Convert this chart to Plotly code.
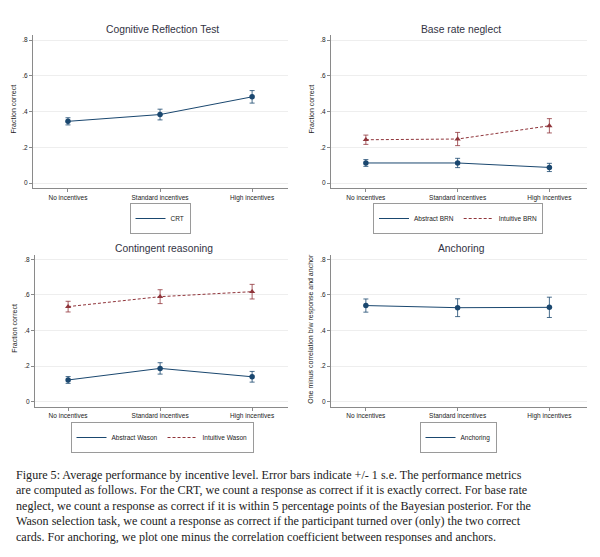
import plotly.graph_objects as go

# The page body has an 8px default margin; the figure is sized so that
# figure + margin fills the 600x557 window exactly.
OFF = 8
W, H = 600 - OFF, 557 - OFF

categories = ["No incentives", "Standard incentives", "High incentives"]
tick_vals = [0, 0.2, 0.4, 0.6, 0.8]
tick_text = ["0", ".2", ".4", ".6", ".8"]

crt = [0.345, 0.383, 0.482]
crt_se = [0.020, 0.030, 0.035]

brn_abstract = [0.112, 0.112, 0.087]
brn_abstract_se = [0.019, 0.026, 0.023]
brn_intuitive = [0.242, 0.246, 0.320]
brn_intuitive_se = [0.026, 0.037, 0.040]

wason_abstract = [0.122, 0.187, 0.140]
wason_abstract_se = [0.019, 0.032, 0.030]
wason_intuitive = [0.534, 0.590, 0.618]
wason_intuitive_se = [0.030, 0.039, 0.041]

anchoring = [0.540, 0.528, 0.530]
anchoring_se = [0.037, 0.050, 0.057]

panel_titles = ["Cognitive Reflection Test", "Base rate neglect",
                "Contingent reasoning", "Anchoring"]
y_titles = ["Fraction correct", "Fraction correct", "Fraction correct",
            "One minus correlation b/w response and anchor"]

caption_lines = [
    "Figure 5: Average performance by incentive level. Error bars indicate +/- 1 s.e. The performance metrics",
    "are computed as follows. For the CRT, we count a response as correct if it is exactly correct. For base rate",
    "neglect, we count a response as correct if it is within 5 percentage points of the Bayesian posterior. For the",
    "Wason selection task, we count a response as correct if the participant turned over (only) the two correct",
    "cards. For anchoring, we plot one minus the correlation coefficient between responses and anchors.",
]

NAVY = "#1a476f"
MAROON = "#90353b"
AXIS = "#8a8a8a"
SANS = "Liberation Sans, Arial, sans-serif"
DASH = "3px,2px"

def px_x(p):
    return (p - OFF) / W

def px_y(p):
    return 1 - (p - OFF) / H

panels = [
    dict(xl=33, xr=288, yt=35, yb=188, yr=[-0.028, 0.828], xr_=[-0.38, 2.39], title_y=29, leg_y=203, leg_x=160),
    dict(xl=331, xr=587, yt=35, yb=188, yr=[-0.028, 0.828], xr_=[-0.38, 2.41], title_y=29, leg_y=203, leg_x=458),
    dict(xl=35, xr=288, yt=255, yb=406.5, yr=[-0.027, 0.824], xr_=[-0.36, 2.39], title_y=248, leg_y=422, leg_x=162),
    dict(xl=331, xr=587, yt=255, yb=406.5, yr=[-0.027, 0.824], xr_=[-0.38, 2.41], title_y=248, leg_y=422, leg_x=458),
]

series = [
    [("CRT", crt, crt_se, NAVY, "solid", "circle")],
    [("Abstract BRN", brn_abstract, brn_abstract_se, NAVY, "solid", "circle"),
     ("Intuitive BRN", brn_intuitive, brn_intuitive_se, MAROON, DASH, "triangle-up")],
    [("Abstract Wason", wason_abstract, wason_abstract_se, NAVY, "solid", "circle"),
     ("Intuitive Wason", wason_intuitive, wason_intuitive_se, MAROON, DASH, "triangle-up")],
    [("Anchoring", anchoring, anchoring_se, NAVY, "solid", "circle")],
]

fig = go.Figure()
layout = dict(
    width=W, height=H,
    margin=dict(l=0, r=0, t=0, b=0, autoexpand=False),
    paper_bgcolor="white", plot_bgcolor="white",
    font=dict(family=SANS, color="#222222"),
    showlegend=True,
    annotations=[],
)

for i, (p, ser) in enumerate(zip(panels, series)):
    n = i + 1
    xa = "x" if n == 1 else f"x{n}"
    ya = "y" if n == 1 else f"y{n}"
    leg = "legend" if n == 1 else f"legend{n}"
    for name, vals, se, color, dash, sym in ser:
        fig.add_trace(go.Scatter(
            x=categories, y=vals, name=name, mode="lines+markers",
            xaxis=xa, yaxis=ya, showlegend=False,
            line=dict(color=color, width=1, dash=dash),
            marker=dict(color=color, size=5.5, symbol=sym),
            error_y=dict(type="data", array=se, visible=True, color=color,
                         thickness=0.8, width=2.5),
        ))
    for name, vals, se, color, dash, sym in ser:
        fig.add_trace(go.Scatter(
            x=[None], y=[None], name=name, mode="lines",
            xaxis=xa, yaxis=ya, legend=leg, showlegend=True,
            line=dict(color=color, width=1, dash=dash),
        ))
    layout[f"xaxis{'' if n == 1 else n}"] = dict(
        domain=[px_x(p["xl"]), px_x(p["xr"])], anchor=ya,
        range=p["xr_"], type="category", automargin=False,
        showline=True, linecolor=AXIS, linewidth=1,
        ticks="outside", ticklen=3, tickcolor=AXIS, tickwidth=1,
        tickfont=dict(size=6.5, color="#222222", family=SANS),
        showgrid=False, zeroline=False, fixedrange=True,
    )
    layout[f"yaxis{'' if n == 1 else n}"] = dict(
        domain=[px_y(p["yb"]), px_y(p["yt"])], anchor=xa,
        range=p["yr"], tickvals=tick_vals, ticktext=tick_text, automargin=False,
        showline=True, linecolor=AXIS, linewidth=1,
        ticks="outside", ticklen=3, tickcolor=AXIS, tickwidth=1,
        tickfont=dict(size=6.5, color="#222222", family=SANS),
        showgrid=True, gridcolor="#eeeeee", gridwidth=1,
        zeroline=False, fixedrange=True,
    )
    layout[leg] = dict(
        visible=True,
        orientation="h", x=px_x(p["leg_x"]), xanchor="center",
        y=px_y(p["leg_y"]), yanchor="top",
        bordercolor="#9a9a9a", borderwidth=1, bgcolor="white",
        font=dict(size=6.5, family=SANS, color="#222222"),
        itemwidth=30, tracegroupgap=0,
    )
    layout["annotations"].append(dict(
        text=panel_titles[i], xref="paper", yref="paper",
        x=px_x((p["xl"] + p["xr"]) / 2 + 2), y=px_y(p["title_y"]),
        xanchor="center", yanchor="middle", showarrow=False,
        font=dict(size=10.3, family=SANS, color="#333344"),
    ))
    layout["annotations"].append(dict(
        text=y_titles[i], xref="paper", yref="paper",
        x=px_x(p["xl"] - 20), y=px_y((p["yt"] + p["yb"]) / 2 - 2),
        xanchor="center", yanchor="middle", showarrow=False, textangle=-90,
        font=dict(size=7, family=SANS, color="#222222"),
    ))

caption_y0 = 475
for k, line in enumerate(caption_lines):
    layout["annotations"].append(dict(
        text=line, xref="paper", yref="paper",
        x=px_x(14), y=px_y(caption_y0 + k * 15.4),
        xanchor="left", yanchor="middle", showarrow=False,
        font=dict(size=12.1, family="Liberation Serif, serif", color="#222222"),
    ))

fig.update_layout(**layout)
fig.write_html("out.html")
